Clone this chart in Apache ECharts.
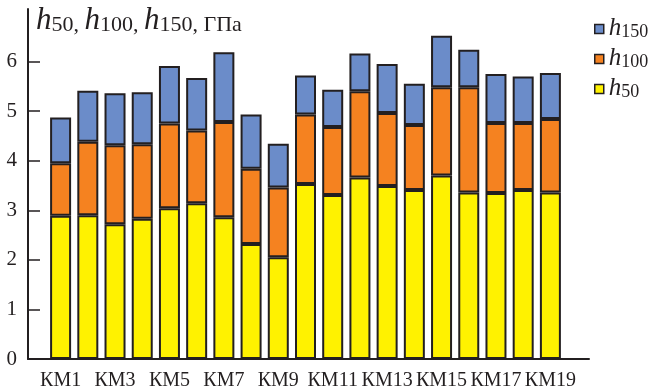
<!DOCTYPE html>
<html>
<head>
<meta charset="utf-8">
<script src="https://cdn.jsdelivr.net/npm/echarts@6/dist/echarts.min.js"></script>
<style>
  html, body { margin: 0; padding: 0; background: #fff; }
  #chart { width: 657px; height: 392px; }
</style>
</head>
<body>
<div id="chart"></div>
<script>
// категории образцов
const categories = ["КМ1", "КМ2", "КМ3", "КМ4", "КМ5", "КМ6", "КМ7", "КМ8", "КМ9", "КМ10",
  "КМ11", "КМ12", "КМ13", "КМ14", "КМ15", "КМ16", "КМ17", "КМ18", "КМ19"];
// высоты сегментов столбцов, ГПа
const h50 = [2.89, 2.90, 2.72, 2.83, 3.04, 3.14, 2.86, 2.32, 2.05, 3.53,
  3.31, 3.66, 3.49, 3.41, 3.70, 3.36, 3.35, 3.41, 3.36];
const h100 = [1.06, 1.48, 1.59, 1.50, 1.71, 1.47, 1.92, 1.52, 1.41, 1.40,
  1.37, 1.74, 1.47, 1.31, 1.78, 2.12, 1.41, 1.35, 1.48];
const h150 = [0.92, 1.03, 1.05, 1.05, 1.16, 1.06, 1.41, 1.09, 0.88, 0.79,
  0.75, 0.76, 0.99, 0.83, 1.04, 0.76, 0.99, 0.94, 0.93];
const yTicks = [0, 1, 2, 3, 4, 5, 6];

const ink = "#231f20";
const serif = "Liberation Serif";

const barSeries = (name, data, color) => ({
  name: name,
  type: "bar",
  stack: "total",
  barWidth: 21,
  xAxisIndex: 0,
  yAxisIndex: 0,
  data: data,
  itemStyle: { color: color, borderColor: ink, borderWidth: 2 },
  emphasis: { disabled: true }
});

const chart = echarts.init(document.getElementById("chart"));
chart.setOption({
  animation: false,
  title: {
    left: 36,
    top: 6,
    padding: 0,
    text: "{i|h}{s|50}{n|, }{i|h}{s|100}{n|, }{i|h}{s|150}{n|, ГПа}",
    textStyle: {
      fontWeight: "normal",
      rich: {
        i: { fontFamily: serif, fontStyle: "italic", fontWeight: "normal", fontSize: 31, lineHeight: 30, verticalAlign: "bottom", color: ink },
        s: { fontFamily: serif, fontWeight: "normal", fontSize: 22, lineHeight: 18, verticalAlign: "bottom", color: ink },
        n: { fontFamily: serif, fontWeight: "normal", fontSize: 22, lineHeight: 23, verticalAlign: "bottom", color: ink }
      }
    }
  },
  legend: {
    orient: "vertical",
    left: 594,
    top: 16,
    padding: 0,
    itemGap: 5,
    itemWidth: 9,
    itemHeight: 9,
    icon: "rect",
    selectedMode: false,
    data: ["h150", "h100", "h50"],
    itemStyle: { borderColor: ink, borderWidth: 1.5 },
    formatter: name => "{i|h}{s|" + name.slice(1) + "}",
    textStyle: {
      rich: {
        i: { fontFamily: serif, fontStyle: "italic", fontSize: 25, lineHeight: 24, verticalAlign: "bottom", color: ink },
        s: { fontFamily: serif, fontSize: 18, lineHeight: 14, verticalAlign: "bottom", color: ink }
      }
    }
  },
  grid: [
    // столбцы
    { left: 47, right: 93, top: 9, bottom: 33 },
    // только линия оси X на всю ширину
    { left: 28, right: 68, top: 9, bottom: 33 }
  ],
  xAxis: [
    {
      type: "category",
      gridIndex: 0,
      data: categories,
      axisLine: { show: false },
      axisTick: { show: false },
      axisLabel: {
        interval: 1,
        fontFamily: serif,
        fontSize: 20,
        color: ink,
        margin: 12
      }
    },
    {
      type: "value",
      gridIndex: 1,
      min: 0,
      max: 1,
      splitLine: { show: false },
      axisTick: { show: false },
      axisLabel: { show: false },
      axisLine: { show: true, lineStyle: { color: ink, width: 2 } }
    }
  ],
  yAxis: [
    {
      type: "value",
      gridIndex: 0,
      min: 0,
      max: 7.06,
      offset: 19,
      splitLine: { show: false },
      axisLine: { show: true, lineStyle: { color: ink, width: 2 } },
      axisTick: { show: true, inside: true, length: 12, customValues: yTicks, lineStyle: { color: ink, width: 1.5 } },
      axisLabel: {
        customValues: yTicks,
        fontFamily: serif,
        fontSize: 21,
        color: ink,
        margin: 11
      }
    },
    {
      type: "value",
      gridIndex: 1,
      show: false
    }
  ],
  series: [
    barSeries("h50", h50, "#fff200"),
    barSeries("h100", h100, "#f58220"),
    barSeries("h150", h150, "#6b8cc9")
  ]
});
</script>
</body>
</html>
